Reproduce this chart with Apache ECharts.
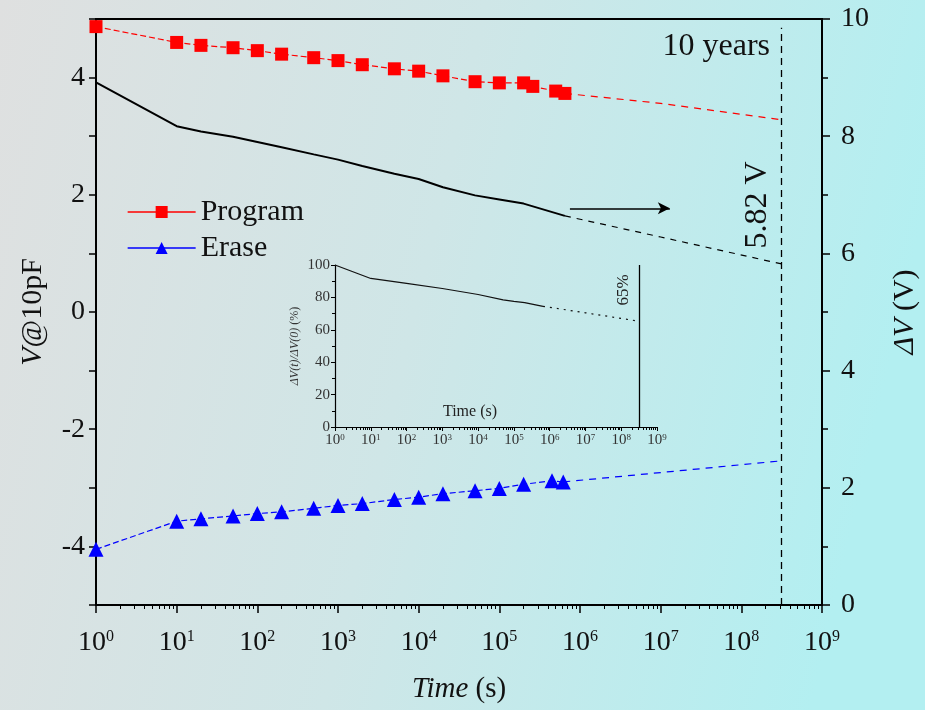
<!DOCTYPE html>
<html lang="en">
<head>
<meta charset="UTF-8">
<title>retention</title>
<script src="https://cdn.jsdelivr.net/npm/echarts@6/dist/echarts.min.js"></script>
<style>
    html, body { margin: 0; padding: 0; }
    #main { width: 925px; height: 710px; }
</style>
</head>
<body>
<div id="main"></div>
<script>
// data
var progT = [1, 10, 20, 50, 100, 200, 500, 1000, 2000, 5000, 1e4, 2e4, 5e4, 1e5, 2e5, 2.6e5, 5e5, 6.5e5];
var progV = [4.87, 4.60, 4.55, 4.51, 4.46, 4.40, 4.34, 4.29, 4.22, 4.15, 4.11, 4.03, 3.93, 3.91, 3.91, 3.85, 3.77, 3.73];
var progExtT = [6.5e5, 1e7, 3.15e8];
var progExtV = [3.73, 3.56, 3.28];

var eraseT = [1, 10, 20, 50, 100, 200, 500, 1000, 2000, 5000, 1e4, 2e4, 5e4, 1e5, 2e5, 4.5e5, 6.2e5];
var eraseV = [-4.05, -3.57, -3.53, -3.48, -3.44, -3.41, -3.35, -3.30, -3.27, -3.20, -3.16, -3.10, -3.05, -3.01, -2.94, -2.88, -2.90];
var eraseExtT = [6.2e5, 1e7, 3.15e8];
var eraseExtV = [-2.90, -2.74, -2.54];

var dvT = [1, 10, 20, 50, 100, 200, 500, 1000, 2000, 5000, 1e4, 2e4, 5e4, 1e5, 2e5, 6.5e5];
var dvV = [8.92, 8.17, 8.08, 7.99, 7.90, 7.81, 7.69, 7.60, 7.49, 7.36, 7.27, 7.13, 6.99, 6.92, 6.85, 6.64];
var dvExtT = [6.5e5, 1e7, 3.15e8];
var dvExtV = [6.64, 6.28, 5.82];

var ratioT = [1, 10, 100, 1000, 1e4, 5e4, 1e5, 2e5, 6.5e5];
var ratioV = [100, 91.7, 88.6, 85.5, 81.8, 78.5, 77.6, 76.8, 74.5];
var ratioExtT = [6.5e5, 1e7, 3.15e8];
var ratioExtV = [74.5, 70.5, 65.3];

var tenYears = 3.15e8;

var serif = 'Liberation Serif';

function pairs(xs, ys) {
    return xs.map(function (x, i) { return [x, ys[i]]; });
}

function powLabel(v) {
    var e = Math.round(Math.log10(v));
    return '{b|10}{s|' + e + '}';
}

function logAxis(grid, big, color) {
    return {
        type: 'log', gridIndex: grid, min: 1, max: 1e9, logBase: 10,
        axisLine: { onZero: false, lineStyle: { color: '#000', width: big ? 2 : 1.2 } },
        axisTick: { length: big ? 8 : 4, lineStyle: { color: '#000', width: big ? 1.5 : 1 } },
        minorTick: { show: true, splitNumber: 9, length: big ? 4 : 3, lineStyle: { color: '#000', width: 1 } },
        splitLine: { show: false },
        axisLabel: {
            margin: big ? 24 : 6,
            formatter: powLabel,
            rich: {
                b: { fontFamily: serif, fontSize: big ? 28 : 15, color: color },
                s: { fontFamily: serif, fontSize: big ? 16 : 9, color: color, verticalAlign: 'top' }
            }
        }
    };
}

var chart = echarts.init(document.getElementById('main'));

var option = {
    backgroundColor: new echarts.graphic.LinearGradient(0, 0, 1, 0.3, [
        { offset: 0, color: '#dfe0e0' },
        { offset: 0.5, color: '#cfe6e7' },
        { offset: 1, color: '#b3eff1' }
    ]),
    animation: false,
    textStyle: { fontFamily: serif },
    grid: [
        { left: 96, top: 19, width: 726, height: 586, outerBoundsMode: 'none', show: true, borderColor: '#000', borderWidth: 2, backgroundColor: 'transparent' },
        { left: 335, top: 265, width: 322, height: 162, outerBoundsMode: 'none' }
    ],
    legend: {
        data: ['Program', 'Erase'],
        orient: 'vertical',
        left: 122, top: 192,
        itemWidth: 68, itemHeight: 15, itemGap: 6,
        lineStyle: { type: 'solid', width: 1.3 },
        textStyle: { fontFamily: serif, fontSize: 30, color: '#111' }
    },
    xAxis: [
        Object.assign(logAxis(0, true, '#111'), {
            name: '{i|Time}{n| (s)}', nameLocation: 'middle', nameGap: 70,
            nameTextStyle: { rich: {
                i: { fontFamily: serif, fontSize: 29, fontStyle: 'italic', color: '#111' },
                n: { fontFamily: serif, fontSize: 29, color: '#111' }
            } }
        }),
        logAxis(1, false, '#333')
    ],
    yAxis: [
        {
            type: 'value', gridIndex: 0, min: -5, max: 5, interval: 1,
            axisLine: { show: true, onZero: false, lineStyle: { color: '#000', width: 2 } },
            axisTick: { length: 7, lineStyle: { color: '#000', width: 1.5 } },
            splitLine: { show: false },
            axisLabel: {
                fontFamily: serif, fontSize: 28, color: '#111', margin: 11,
                formatter: function (v) { return (v % 2 === 0 && Math.abs(v) < 5) ? String(v) : ''; }
            },
            name: '{i|V}{n|@10pF}', nameLocation: 'middle', nameGap: 48,
            nameTextStyle: { rich: {
                i: { fontFamily: serif, fontSize: 30, fontStyle: 'italic', color: '#111' },
                n: { fontFamily: serif, fontSize: 30, color: '#111' }
            } }
        },
        {
            type: 'value', gridIndex: 0, position: 'right', min: 0, max: 10, interval: 2,
            axisLine: { show: true, onZero: false, lineStyle: { color: '#000', width: 2 } },
            axisTick: { length: 8, lineStyle: { color: '#000', width: 1.5 } },
            minorTick: { show: true, splitNumber: 2, length: 6, lineStyle: { color: '#000', width: 1.5 } },
            splitLine: { show: false },
            axisLabel: { fontFamily: serif, fontSize: 28, color: '#111', margin: 19 },
            name: '{i|ΔV}{n| (V)}', nameLocation: 'middle', nameGap: 68,
            nameTextStyle: { rich: {
                i: { fontFamily: serif, fontSize: 30, fontStyle: 'italic', color: '#111' },
                n: { fontFamily: serif, fontSize: 30, color: '#111' }
            } }
        },
        {
            type: 'value', gridIndex: 1, min: 0, max: 100, interval: 20,
            axisLine: { show: true, onZero: false, lineStyle: { color: '#000', width: 1.2 } },
            axisTick: { length: 4, lineStyle: { color: '#000' } },
            minorTick: { show: true, splitNumber: 2, length: 3, lineStyle: { color: '#000' } },
            splitLine: { show: false },
            axisLabel: { fontFamily: serif, fontSize: 15, color: '#333', margin: 5 },
            name: '{i|ΔV(t)/ΔV(0)}{n| (%)}', nameLocation: 'middle', nameGap: 34,
            nameTextStyle: { rich: {
                i: { fontFamily: serif, fontSize: 12, fontStyle: 'italic', color: '#333' },
                n: { fontFamily: serif, fontSize: 12, color: '#333' }
            } }
        }
    ],
    series: [
        {
            name: 'Program', type: 'line', xAxisIndex: 0, yAxisIndex: 0,
            data: pairs(progT, progV),
            symbol: 'rect', symbolSize: 13,
            itemStyle: { color: '#ff0000' },
            lineStyle: { color: '#ff0000', width: 1.2, type: [6, 3] }
        },
        {
            name: 'progExt', type: 'line', xAxisIndex: 0, yAxisIndex: 0,
            data: pairs(progExtT, progExtV), symbol: 'none',
            lineStyle: { color: '#ff0000', width: 1.2, type: [7, 6] }
        },
        {
            name: 'Erase', type: 'line', xAxisIndex: 0, yAxisIndex: 0,
            data: pairs(eraseT, eraseV),
            symbol: 'triangle', symbolSize: 15,
            itemStyle: { color: '#0000ff' },
            lineStyle: { color: '#0000ff', width: 1.2, type: [6, 3] }
        },
        {
            name: 'eraseExt', type: 'line', xAxisIndex: 0, yAxisIndex: 0,
            data: pairs(eraseExtT, eraseExtV), symbol: 'none',
            lineStyle: { color: '#0000ff', width: 1.2, type: [7, 6] }
        },
        {
            name: 'dV', type: 'line', xAxisIndex: 0, yAxisIndex: 1,
            data: pairs(dvT, dvV), symbol: 'none',
            lineStyle: { color: '#000', width: 2 },
            markLine: {
                silent: true, symbol: ['none', 'arrow'], symbolSize: [9, 12],
                label: { show: false },
                lineStyle: { color: '#000', width: 1.5, type: 'solid' },
                data: [[{ coord: [7.5e5, 6.77] }, { coord: [1.3e7, 6.77] }]]
            }
        },
        {
            name: 'dvExt', type: 'line', xAxisIndex: 0, yAxisIndex: 1,
            data: pairs(dvExtT, dvExtV), symbol: 'none',
            lineStyle: { color: '#000', width: 1.2, type: [6, 6] },
            markLine: {
                silent: true, symbol: 'none',
                label: { show: false },
                lineStyle: { color: '#000', width: 1.3, type: [7, 5] },
                data: [[{ coord: [tenYears, 0] }, { coord: [tenYears, 9.85] }]]
            }
        },
        {
            name: 'ratio', type: 'line', xAxisIndex: 1, yAxisIndex: 2,
            data: pairs(ratioT, ratioV), symbol: 'none',
            lineStyle: { color: '#111', width: 1.2 }
        },
        {
            name: 'ratioExt', type: 'line', xAxisIndex: 1, yAxisIndex: 2,
            data: pairs(ratioExtT, ratioExtV), symbol: 'none',
            lineStyle: { color: '#111', width: 1.2, type: [2, 5] },
            markLine: {
                silent: true, symbol: 'none',
                label: { show: false },
                lineStyle: { color: '#000', width: 1.3, type: 'solid' },
                data: [[{ coord: [tenYears, 0] }, { coord: [tenYears, 100] }]]
            }
        }
    ],
    graphic: [
        { type: 'text', x: 770, y: 47, style: { text: '10 years', font: '32px "Liberation Serif"', fill: '#111', align: 'right', verticalAlign: 'middle' } },
        { type: 'text', x: 758, y: 205, rotation: Math.PI / 2, style: { text: '5.82 V', font: '32px "Liberation Serif"', fill: '#111', align: 'center', verticalAlign: 'middle' } },
        { type: 'text', x: 624, y: 290, rotation: Math.PI / 2, style: { text: '65%', font: '17px "Liberation Serif"', fill: '#222', align: 'center', verticalAlign: 'middle' } },
        { type: 'text', x: 470, y: 412, style: { text: 'Time (s)', font: '16px "Liberation Serif"', fill: '#222', align: 'center', verticalAlign: 'middle' } }
    ]
};

chart.setOption(option);
</script>
</body>
</html>
